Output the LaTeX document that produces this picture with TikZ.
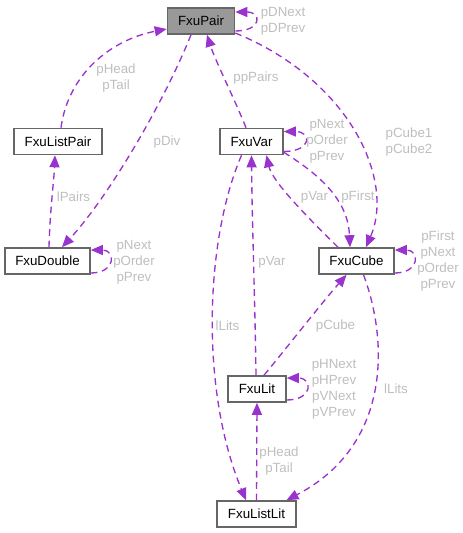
\documentclass[tikz,border=0pt]{standalone}
\usepackage{fontspec}
\setmainfont{Liberation Sans}
\usetikzlibrary{arrows.meta,calc}
\definecolor{edgec}{HTML}{9A32CD}
\definecolor{lblc}{HTML}{BEBEBE}
\definecolor{bordc}{HTML}{666666}
\definecolor{hilite}{HTML}{999999}
\begin{document}
\begin{tikzpicture}[x=0.75pt,y=-0.75pt,
  cls/.style={draw=bordc,line width=1.2pt,fill=white,minimum height=19.5pt,inner sep=0pt,font=\fontsize{10}{12}\selectfont},
  edge/.style={draw=edgec,line width=1pt,dash pattern=on 5pt off 3.5pt,-{Triangle[length=9pt,width=7.5pt]}},
  lbl/.style={text=lblc,align=center,inner sep=0pt,font=\fontsize{10}{12}\selectfont}]
\useasboundingbox (0,0) rectangle (462,533);
% nodes
\node[cls,fill=hilite,minimum width=50.25pt] (pair) at (201,21) {FxuPair};
\node[cls,minimum width=66pt] (lp) at (58,141.5) {FxuListPair};
\node[cls,minimum width=47.25pt] (var) at (251.5,141.5) {FxuVar};
\node[cls,minimum width=63.75pt] (dbl) at (47.5,261) {FxuDouble};
\node[cls,minimum width=56.25pt] (cube) at (356.5,261) {FxuCube};
\node[cls,minimum width=43.5pt] (lit) at (257,389) {FxuLit};
\node[cls,minimum width=59.25pt] (ll) at (256.5,514) {FxuListLit};
% edges
\draw[edge] ($(pair.east)+(0,10)$) .. controls (262,31) and (262,12) .. ($(pair.east)+(0,-9)$);
\draw[edge] ($(lp.north)+(3,0)$) .. controls (68,75) and (110,40) .. ($(pair.west)+(0,8)$);
\draw[edge] ($(pair.south)+(-10,0)$) .. controls (165,100) and (110,195) .. ($(dbl.north)+(14.5,0)$);
\draw[edge] ($(var.north)+(-5.5,0)$) .. controls (235,100) and (215,60) .. ($(pair.south)+(6,0)$);
\draw[edge] ($(pair.east)+(0,12)$) .. controls (350,80) and (395,180) .. ($(cube.north)+(9.5,0)$);
\draw[edge] ($(var.east)+(0,10)$) .. controls (312,151.5) and (312,131.5) .. ($(var.east)+(0,-10)$);
\draw[edge] ($(dbl.north)+(1.5,0)$) .. controls (50,210) and (54,180) .. ($(lp.south)+(-3,0)$);
\draw[edge] ($(dbl.east)+(0,12)$) .. controls (116,273) and (116,250) .. ($(dbl.east)+(0,-11)$);
\draw[edge] ($(cube.north)+(-18.5,0)$) .. controls (300,210) and (272,180) .. ($(var.south)+(15,0)$);
\draw[edge] ($(var.south east)+(0,-3)$) .. controls (320,175) and (348,200) .. ($(cube.north)+(-6.5,0)$);
\draw[edge] ($(cube.east)+(0,12)$) .. controls (420,273) and (420,250) .. ($(cube.east)+(0,-11)$);
\draw[edge] ($(lit.north)+(-1,0)$) .. controls (255,300) and (252,220) .. (var.south);
\draw[edge] ($(var.south)+(-10,0)$) .. controls (205,240) and (200,390) .. ($(ll.north)+(-10.5,0)$);
\draw[edge] ($(lit.north)+(7,0)$) .. controls (285,350) and (320,305) .. ($(cube.south)+(-10,0)$);
\draw[edge] ($(lit.east)+(0,11)$) .. controls (313,400) and (313,378) .. ($(lit.east)+(0,-11)$);
\draw[edge] (ll.north) -- (lit.south);
\draw[edge] ($(cube.south)+(7,0)$) .. controls (388,340) and (392,445) .. ($(ll.north)+(30,0)$);
% labels
\node[lbl] (t1) at (283,21.5) {pDNext\\pDPrev};
\node[lbl] (t2) at (116,78) {pHead\\pTail};
\node[lbl] (t3) at (167,142) {pDiv};
\node[lbl] (t4) at (256,78) {ppPairs};
\node[lbl] (t5) at (409,142) {pCube1\\pCube2};
\node[lbl] (t6) at (327,141) {pNext\\pOrder\\pPrev};
\node[lbl] (t7) at (73.5,197) {lPairs};
\node[lbl] (t8) at (134,262) {pNext\\pOrder\\pPrev};
\node[lbl] (t9) at (314.5,197) {pVar};
\node[lbl] (t10) at (358,197) {pFirst};
\node[lbl] (t11) at (438,261) {pFirst\\pNext\\pOrder\\pPrev};
\node[lbl] (t12) at (272,262) {pVar};
\node[lbl] (t13) at (227.5,326) {lLits};
\node[lbl] (t14) at (335.5,326) {pCube};
\node[lbl] (t15) at (334,389) {pHNext\\pHPrev\\pVNext\\pVPrev};
\node[lbl] (t16) at (279,461) {pHead\\pTail};
\node[lbl] (t17) at (396,389) {lLits};
\end{tikzpicture}
\end{document}
